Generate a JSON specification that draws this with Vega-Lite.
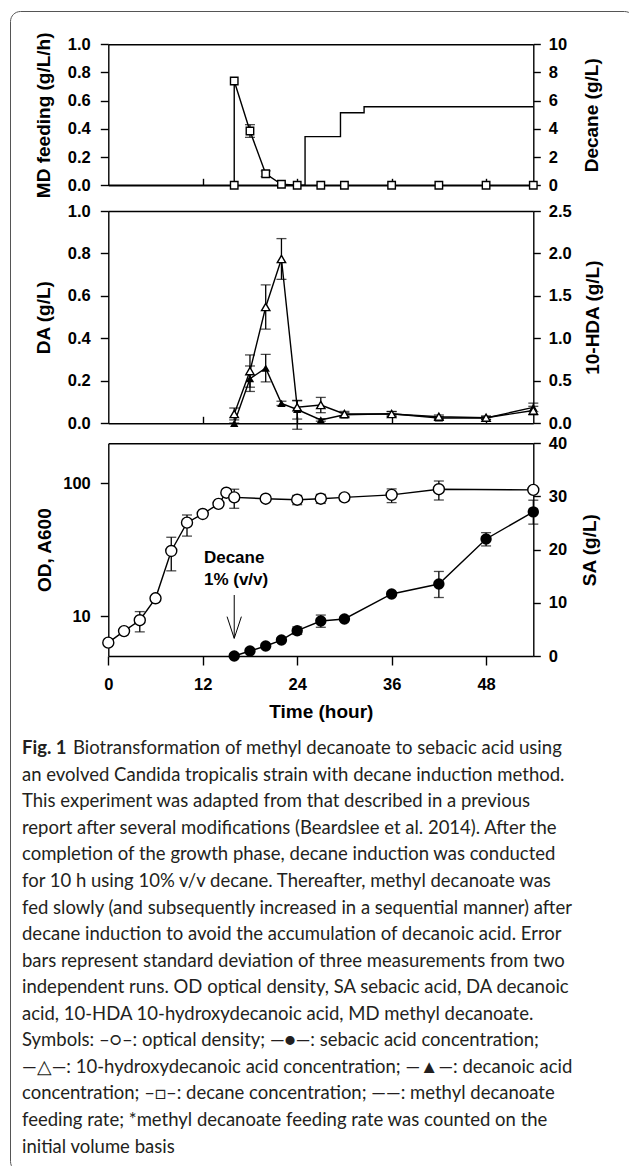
{
 "$schema": "https://vega.github.io/schema/vega-lite/v6.json",
 "width": 624,
 "height": 1160,
 "autosize": "none",
 "padding": {"left": 10, "top": 11, "right": 0, "bottom": 0},
 "background": "white",
 "config": {
  "view": {"stroke": "#555", "strokeWidth": 1, "cornerRadius": 10},
  "axis": {"grid": false, "domainColor": "black", "domainWidth": 1.4, "tickColor": "black", "tickWidth": 1.4,
   "labelFont": "Liberation Sans", "labelFontSize": 16.5, "labelFontWeight": "bold", "labelColor": "black",
   "titleFont": "Liberation Sans", "titleFontSize": 19, "titleFontWeight": "bold", "titleColor": "black",
   "labelFlush": false, "labelOverlap": false}
 },
 "datasets": {
  "md": [{"t": 0, "v": 0}, {"t": 25, "v": 0.345}, {"t": 29.5, "v": 0.515}, {"t": 32.5, "v": 0.557}, {"t": 54, "v": 0.557}],
  "decane": [
   {"i": 1, "t": 16, "v": 0}, {"i": 2, "t": 16, "v": 7.4}, {"i": 3, "t": 18, "v": 3.85}, {"i": 4, "t": 20, "v": 0.82},
   {"i": 5, "t": 22, "v": 0.07}, {"i": 6, "t": 24, "v": 0}, {"i": 7, "t": 27, "v": 0}, {"i": 8, "t": 30, "v": 0},
   {"i": 9, "t": 36, "v": 0}, {"i": 10, "t": 42, "v": 0}, {"i": 11, "t": 48, "v": 0}, {"i": 12, "t": 54, "v": 0}
  ],
  "decane_err": [{"t": 18, "lo": 3.4, "hi": 4.3}, {"t": 20, "lo": 0.62, "hi": 1.02}],
  "da": [
   {"t": 16, "v": 0.0, "lo": 0.0, "hi": 0.0}, {"t": 18, "v": 0.21, "lo": 0.15, "hi": 0.27}, {"t": 20, "v": 0.26, "lo": 0.195, "hi": 0.325},
   {"t": 22, "v": 0.094, "lo": 0.084, "hi": 0.104}, {"t": 24, "v": 0.065, "lo": 0.02, "hi": 0.106}, {"t": 27, "v": 0.016, "lo": 0.01, "hi": 0.022},
   {"t": 30, "v": 0.04, "lo": 0.03, "hi": 0.05}, {"t": 36, "v": 0.045, "lo": 0.035, "hi": 0.055}, {"t": 42, "v": 0.025, "lo": 0.018, "hi": 0.032},
   {"t": 48, "v": 0.025, "lo": 0.018, "hi": 0.032}, {"t": 54, "v": 0.075, "lo": 0.055, "hi": 0.095}
  ],
  "hda": [
   {"t": 16, "v": 0.11, "lo": 0.04, "hi": 0.18}, {"t": 18, "v": 0.615, "lo": 0.425, "hi": 0.805}, {"t": 20, "v": 1.37, "lo": 1.11, "hi": 1.63},
   {"t": 22, "v": 1.935, "lo": 1.695, "hi": 2.175}, {"t": 24, "v": 0.19, "lo": -0.07, "hi": 0.27}, {"t": 27, "v": 0.215, "lo": 0.125, "hi": 0.305},
   {"t": 30, "v": 0.11, "lo": 0.08, "hi": 0.14}, {"t": 36, "v": 0.11, "lo": 0.08, "hi": 0.14}, {"t": 42, "v": 0.078, "lo": 0.058, "hi": 0.098},
   {"t": 48, "v": 0.066, "lo": 0.046, "hi": 0.086}, {"t": 54, "v": 0.15, "lo": 0.1, "hi": 0.2}
  ],
  "od": [
   {"t": 0, "v": 6.3}, {"t": 2, "v": 7.7}, {"t": 4, "v": 9.3, "lo": 7.6, "hi": 10.8}, {"t": 6, "v": 13.6},
   {"t": 8, "v": 30.9, "lo": 21.9, "hi": 39.2}, {"t": 10, "v": 50.5, "lo": 40, "hi": 57.7}, {"t": 12, "v": 58.7},
   {"t": 14, "v": 69.9}, {"t": 15, "v": 84.9}, {"t": 16, "v": 78.3, "lo": 64.8, "hi": 90.2}, {"t": 20, "v": 76.5},
   {"t": 24, "v": 75.2, "lo": 69, "hi": 81}, {"t": 27, "v": 76.5, "lo": 70.5, "hi": 82.5}, {"t": 30, "v": 78.3, "lo": 74, "hi": 82.5},
   {"t": 36, "v": 81.7, "lo": 71.5, "hi": 90.7}, {"t": 42, "v": 90.2, "lo": 74.8, "hi": 104}, {"t": 54, "v": 89.1}
  ],
  "sa": [
   {"t": 16, "v": 0}, {"t": 18, "v": 0.94}, {"t": 20, "v": 1.88}, {"t": 22, "v": 3.0},
   {"t": 24, "v": 4.76, "lo": 4.06, "hi": 5.46}, {"t": 27, "v": 6.58, "lo": 5.4, "hi": 7.7}, {"t": 30, "v": 6.96},
   {"t": 36, "v": 11.66}, {"t": 42, "v": 13.54, "lo": 11.0, "hi": 15.9}, {"t": 48, "v": 22.0, "lo": 20.7, "hi": 23.2},
   {"t": 54, "v": 27.1, "lo": 24.8, "hi": 29.3}
  ],
  "note": [{"t": 12.15, "y": 18.37, "s": "Decane"}, {"t": 12.15, "y": 14.29, "s": "1% (v/v)"}],
  "arrow": [{"t": 16, "y1": 11.47, "y2": 3.33, "yh": 5.36}],
  "cap1a": [{"n": 1, "s": "Fig. 1"}],
  "cap1b": [{"n": 1, "s": "Biotransformation of methyl decanoate to sebacic acid using"}],
  "cap": [
   {"n": 2, "s": "an evolved Candida tropicalis strain with decane induction method."},
   {"n": 3, "s": "This experiment was adapted from that described in a previous"},
   {"n": 4, "s": "report after several modifications (Beardslee et al. 2014). After the"},
   {"n": 5, "s": "completion of the growth phase, decane induction was conducted"},
   {"n": 6, "s": "for 10 h using 10% v/v decane. Thereafter, methyl decanoate was"},
   {"n": 7, "s": "fed slowly (and subsequently increased in a sequential manner) after"},
   {"n": 8, "s": "decane induction to avoid the accumulation of decanoic acid. Error"},
   {"n": 9, "s": "bars represent standard deviation of three measurements from two"},
   {"n": 10, "s": "independent runs. OD optical density, SA sebacic acid, DA decanoic"},
   {"n": 11, "s": "acid, 10-HDA 10-hydroxydecanoic acid, MD methyl decanoate."},
   {"n": 12, "s": "Symbols: \u2013\u25cb\u2013: optical density; \u2014\u25cf\u2014: sebacic acid concentration;"},
   {"n": 13, "s": "\u2014\u25b3\u2014: 10-hydroxydecanoic acid concentration; \u2014\u25b2\u2014: decanoic acid"},
   {"n": 14, "s": "concentration; \u2013\u25a1\u2013: decane concentration; \u2014\u2014: methyl decanoate"},
   {"n": 15, "s": "feeding rate; *methyl decanoate feeding rate was counted on the"},
   {"n": 16, "s": "initial volume basis"}
  ]
 },
 "layer": [
  {
   "encoding": {"x": {"field": "t", "type": "quantitative", "scale": {"domain": [0, 54], "range": [98.3, 523.3], "nice": false, "zero": false}, "axis": null}},
   "layer": [
    {"data": {"name": "md"}, "mark": {"type": "line", "interpolate": "step-after", "color": "black", "strokeWidth": 1.4},
     "encoding": {
      "x": {"field": "t", "type": "quantitative", "scale": {"domain": [0, 54], "range": [98.3, 523.3], "nice": false, "zero": false},
            "axis": {"orient": "bottom", "offset": -985.7, "values": [12, 24, 36, 48], "tickSize": -7, "labels": false, "title": null}},
      "y": {"field": "v", "type": "quantitative", "scale": {"domain": [0, 1], "range": [174.3, 33.3], "nice": false, "zero": false},
            "axis": {"orient": "left", "offset": -98.3, "values": [0, 0.2, 0.4, 0.6, 0.8, 1.0], "format": ".1f", "tickSize": 8, "labelPadding": 10, "title": "MD feeding (g/L/h)", "titlePadding": 13.8}}
     }},
    {"data": {"name": "decane_err"}, "mark": {"type": "errorbar", "ticks": true, "size": 10, "thickness": 1.3, "color": "black"},
     "encoding": {
      "y": {"field": "lo", "type": "quantitative", "scale": {"domain": [0, 10], "range": [174.3, 33.3], "nice": false}, "axis": null},
      "y2": {"field": "hi"}
     }},
    {"data": {"name": "decane"}, "mark": {"type": "line", "color": "black", "strokeWidth": 1.4},
     "encoding": {
      "x": {"field": "t", "type": "quantitative", "scale": {"domain": [0, 54], "range": [98.3, 523.3], "nice": false, "zero": false},
            "axis": {"orient": "top", "offset": -33.3, "ticks": false, "labels": false, "title": null}},
      "y": {"field": "v", "type": "quantitative", "scale": {"domain": [0, 10], "range": [174.3, 33.3], "nice": false},
            "axis": {"orient": "right", "offset": -100.7, "values": [0, 2, 4, 6, 8, 10], "tickSize": 7, "labelPadding": 8, "title": "Decane (g/L)", "titleAngle": 270, "titleBaseline": "top", "titlePadding": 15.8}},
      "order": {"field": "i", "type": "quantitative"}
     }},
    {"data": {"name": "decane"}, "mark": {"type": "point", "shape": "square", "filled": true, "fill": "white", "stroke": "black", "strokeWidth": 1.4, "size": 56, "opacity": 1},
     "encoding": {
      "y": {"field": "v", "type": "quantitative", "scale": {"domain": [0, 10], "range": [174.3, 33.3], "nice": false}, "axis": null}
     }},

    {"data": {"name": "da"}, "mark": {"type": "errorbar", "ticks": true, "size": 10, "thickness": 1.3, "color": "black"},
     "encoding": {
      "y": {"field": "lo", "type": "quantitative", "scale": {"domain": [0, 1], "range": [412.3, 200], "nice": false}, "axis": null},
      "y2": {"field": "hi"}
     }},
    {"data": {"name": "hda"}, "mark": {"type": "errorbar", "ticks": true, "size": 10, "thickness": 1.3, "color": "black"},
     "encoding": {
      "y": {"field": "lo", "type": "quantitative", "scale": {"domain": [0, 2.5], "range": [412.3, 200], "nice": false}, "axis": null},
      "y2": {"field": "hi"}
     }},
    {"data": {"name": "da"}, "mark": {"type": "line", "color": "black", "strokeWidth": 1.4},
     "encoding": {
      "x": {"field": "t", "type": "quantitative", "scale": {"domain": [0, 54], "range": [98.3, 523.3], "nice": false, "zero": false},
            "axis": {"orient": "bottom", "offset": -747.7, "values": [12, 24, 36, 48], "tickSize": -7, "labels": false, "title": null}},
      "y": {"field": "v", "type": "quantitative", "scale": {"domain": [0, 1], "range": [412.3, 200], "nice": false},
            "axis": {"orient": "left", "offset": -98.3, "values": [0, 0.2, 0.4, 0.6, 0.8, 1.0], "format": ".1f", "tickSize": 8, "labelPadding": 10, "title": "DA (g/L)", "titlePadding": 13.8}}
     }},
    {"data": {"name": "hda"}, "mark": {"type": "line", "color": "black", "strokeWidth": 1.4},
     "encoding": {
      "x": {"field": "t", "type": "quantitative", "scale": {"domain": [0, 54], "range": [98.3, 523.3], "nice": false, "zero": false},
            "axis": {"orient": "top", "offset": -200, "ticks": false, "labels": false, "title": null}},
      "y": {"field": "v", "type": "quantitative", "scale": {"domain": [0, 2.5], "range": [412.3, 200], "nice": false},
            "axis": {"orient": "right", "offset": -100.7, "values": [0, 0.5, 1, 1.5, 2, 2.5], "format": ".1f", "tickSize": 7, "labelPadding": 8, "title": "10-HDA (g/L)", "titleAngle": 270, "titleBaseline": "top", "titlePadding": 12.2}}
     }},
    {"data": {"name": "da"}, "mark": {"type": "point", "shape": "triangle-up", "filled": true, "color": "black", "size": 70, "opacity": 1},
     "encoding": {
      "y": {"field": "v", "type": "quantitative", "scale": {"domain": [0, 1], "range": [412.3, 200], "nice": false}, "axis": null}
     }},
    {"data": {"name": "hda"}, "mark": {"type": "point", "shape": "triangle-up", "filled": true, "fill": "white", "stroke": "black", "strokeWidth": 1.4, "size": 70, "opacity": 1},
     "encoding": {
      "y": {"field": "v", "type": "quantitative", "scale": {"domain": [0, 2.5], "range": [412.3, 200], "nice": false}, "axis": null}
     }},

    {"data": {"name": "od"}, "transform": [{"filter": "isValid(datum.lo)"}], "mark": {"type": "errorbar", "ticks": true, "size": 10, "thickness": 1.3, "color": "black"},
     "encoding": {
      "y": {"field": "lo", "type": "quantitative", "scale": {"type": "log", "domain": [5, 200], "range": [645, 432.3], "nice": false}, "axis": null},
      "y2": {"field": "hi"}
     }},
    {"data": {"name": "sa"}, "transform": [{"filter": "isValid(datum.lo)"}], "mark": {"type": "errorbar", "ticks": true, "size": 10, "thickness": 1.3, "color": "black"},
     "encoding": {
      "y": {"field": "lo", "type": "quantitative", "scale": {"domain": [0, 40], "range": [645, 432.3], "nice": false}, "axis": null},
      "y2": {"field": "hi"}
     }},
    {"data": {"name": "od"}, "mark": {"type": "line", "color": "black", "strokeWidth": 1.4},
     "encoding": {
      "x": {"field": "t", "type": "quantitative", "scale": {"domain": [0, 54], "range": [98.3, 523.3], "nice": false, "zero": false},
            "axis": {"orient": "bottom", "offset": -515, "values": [0, 12, 24, 36, 48], "tickSize": 9, "labelPadding": 11, "title": "Time (hour)", "titlePadding": 10}},
      "y": {"field": "v", "type": "quantitative", "scale": {"type": "log", "domain": [5, 200], "range": [645, 432.3], "nice": false},
            "axis": {"orient": "left", "offset": -98.3, "values": [10, 100], "format": "d", "tickSize": 8, "labelPadding": 10, "title": "OD, A600", "titlePadding": 8.3}}
     }},
    {"data": {"name": "sa"}, "mark": {"type": "line", "color": "black", "strokeWidth": 1.4},
     "encoding": {
      "x": {"field": "t", "type": "quantitative", "scale": {"domain": [0, 54], "range": [98.3, 523.3], "nice": false, "zero": false},
            "axis": {"orient": "top", "offset": -432.3, "ticks": false, "labels": false, "title": null}},
      "y": {"field": "v", "type": "quantitative", "scale": {"domain": [0, 40], "range": [645, 432.3], "nice": false},
            "axis": {"orient": "right", "offset": -100.7, "values": [0, 10, 20, 30, 40], "tickSize": 7, "labelPadding": 8, "title": "SA (g/L)", "titleAngle": 270, "titleBaseline": "top", "titlePadding": 13.8}}
     }},
    {"data": {"name": "od"}, "mark": {"type": "point", "shape": "circle", "filled": true, "fill": "white", "stroke": "black", "strokeWidth": 1.4, "size": 121, "opacity": 1},
     "encoding": {
      "y": {"field": "v", "type": "quantitative", "scale": {"type": "log", "domain": [5, 200], "range": [645, 432.3], "nice": false}, "axis": null}
     }},
    {"data": {"name": "sa"}, "mark": {"type": "point", "shape": "circle", "filled": true, "color": "black", "size": 130, "opacity": 1},
     "encoding": {
      "y": {"field": "v", "type": "quantitative", "scale": {"domain": [0, 40], "range": [645, 432.3], "nice": false}, "axis": null}
     }},
    {"data": {"name": "note"}, "mark": {"type": "text", "align": "left", "baseline": "middle", "font": "Liberation Sans", "fontWeight": "bold", "fontSize": 17, "color": "black"},
     "encoding": {
      "y": {"field": "y", "type": "quantitative", "scale": {"domain": [0, 40], "range": [645, 432.3], "nice": false}, "axis": null},
      "text": {"field": "s"}
     }},
    {"data": {"name": "arrow"}, "mark": {"type": "rule", "color": "black", "strokeWidth": 1},
     "encoding": {
      "y": {"field": "y1", "type": "quantitative", "scale": {"domain": [0, 40], "range": [645, 432.3], "nice": false}, "axis": null},
      "y2": {"field": "y2"}
     }},
    {"data": {"name": "arrow"}, "mark": {"type": "point", "shape": "M-0.66,-1L0,1L0.66,-1", "filled": false, "stroke": "black", "strokeWidth": 1, "size": 471, "opacity": 1},
     "encoding": {
      "y": {"field": "yh", "type": "quantitative", "scale": {"domain": [0, 40], "range": [645, 432.3], "nice": false}, "axis": null}
     }}
   ],
   "resolve": {"scale": {"x": "shared", "y": "independent"}, "axis": {"x": "independent", "y": "independent"}}
  },
  {
   "encoding": {
    "x": {"datum": 0, "type": "quantitative", "scale": {"domain": [0, 1], "range": [12, 612], "nice": false, "zero": false}, "axis": null},
    "y": {"field": "n", "type": "quantitative", "scale": {"domain": [1, 16], "range": [737.3, 1135.5], "nice": false, "zero": false}, "axis": null},
    "text": {"field": "s"}
   },
   "layer": [
    {"data": {"name": "cap1a"}, "mark": {"type": "text", "align": "left", "baseline": "middle", "font": "Lato", "fontWeight": "bold", "fontSize": 18.5, "color": "#231f20"}},
    {"data": {"name": "cap1b"}, "mark": {"type": "text", "align": "left", "baseline": "middle", "dx": 51, "font": "Lato", "fontSize": 18.5, "color": "#231f20"}},
    {"data": {"name": "cap"}, "mark": {"type": "text", "align": "left", "baseline": "middle", "font": "Lato", "fontSize": 18.5, "color": "#231f20"}}
   ]
  }
 ],
 "resolve": {"scale": {"x": "independent", "y": "independent"}, "axis": {"x": "independent", "y": "independent"}}
}
